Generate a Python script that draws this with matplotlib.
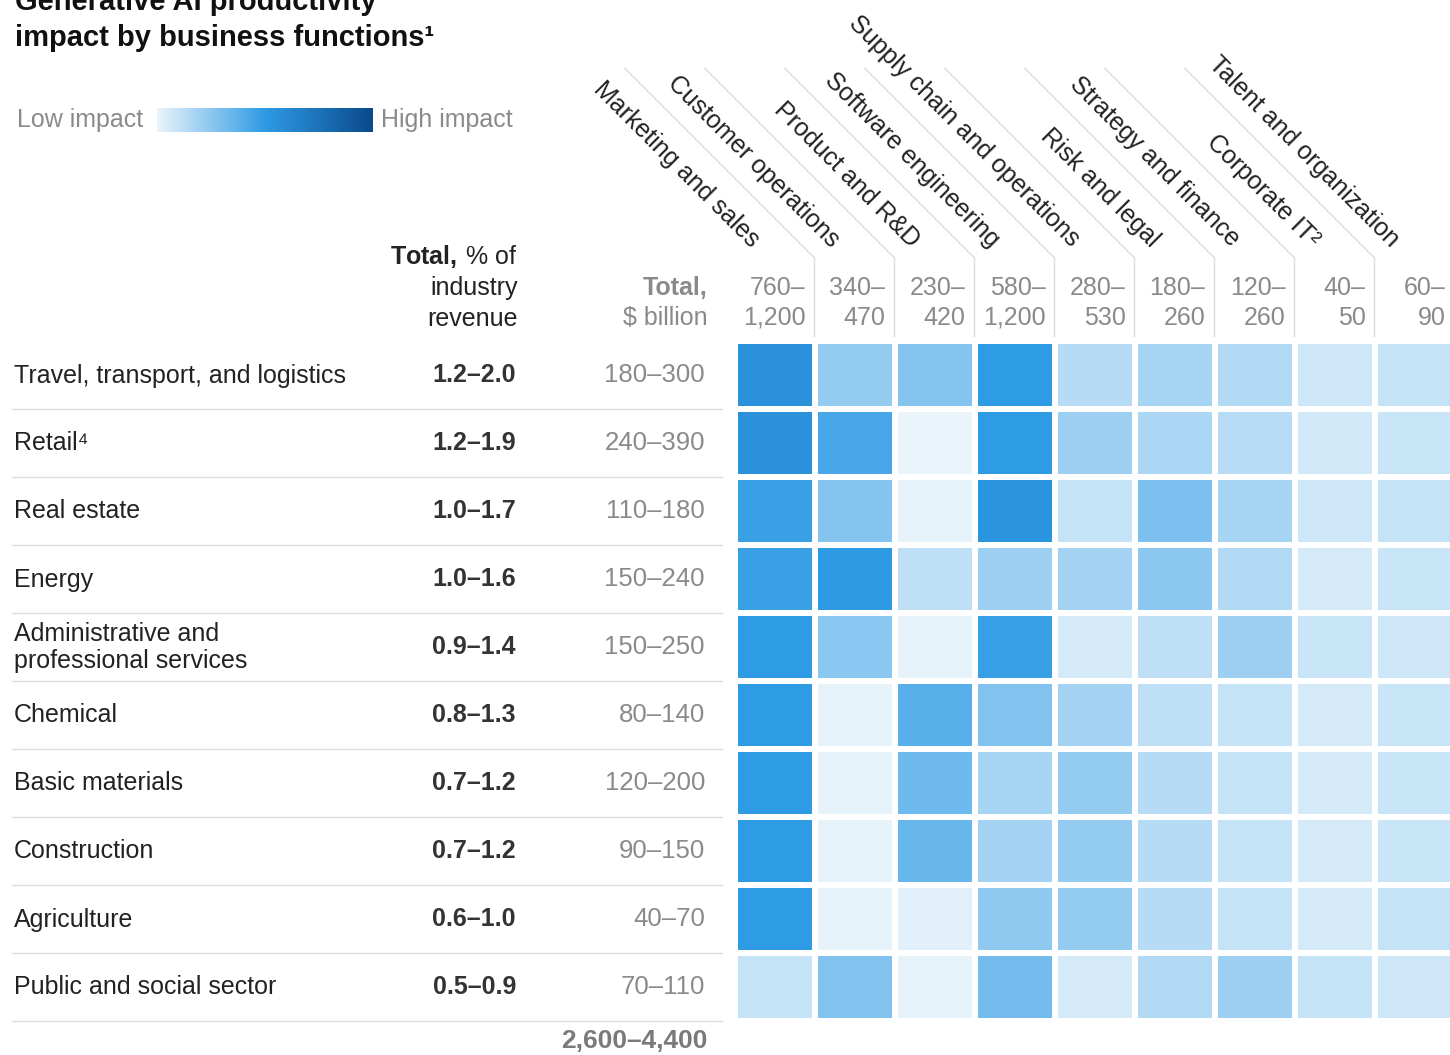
import numpy as np
import matplotlib
matplotlib.use('Agg')
import matplotlib.pyplot as plt
from matplotlib.colors import LinearSegmentedColormap

plt.rcParams['font.family'] = ['Liberation Sans', 'DejaVu Sans']
plt.rcParams['mathtext.fontset'] = 'custom'
plt.rcParams['mathtext.rm'] = 'Liberation Sans'
plt.rcParams['mathtext.bf'] = 'Liberation Sans:bold'

# - Data
industries = ['Travel, transport, and logistics', 'Retail\u2074', 'Real estate', 'Energy',
              'Administrative and\nprofessional services', 'Chemical', 'Basic materials',
              'Construction', 'Agriculture', 'Public and social sector']
pct_revenue = ['1.2–2.0', '1.2–1.9', '1.0–1.7', '1.0–1.6', '0.9–1.4',
               '0.8–1.3', '0.7–1.2', '0.7–1.2', '0.6–1.0', '0.5–0.9']
usd_billion = ['180–300', '240–390', '110–180', '150–240', '150–250',
               '80–140', '120–200', '90–150', '40–70', '70–110']
grand_total = '2,600–4,400'
functions = ['Marketing and sales', 'Customer operations', 'Product and R&D',
             'Software engineering', 'Supply chain and operations', 'Risk and legal',
             'Strategy and finance', 'Corporate IT\u00b2', 'Talent and organization']
func_low = ['760–', '340–', '230–', '580–', '280–', '180–', '120–', '40–', '60–']
func_high = ['1,200', '470', '420', '1,200', '530', '260', '260', '50', '90']
# impact intensity, 0 = low, 1 = high (read from cell shades)
impact = np.array([
    [0.56, 0.23, 0.27, 0.50, 0.14, 0.18, 0.15, 0.08, 0.10],
    [0.56, 0.43, 0.00, 0.50, 0.21, 0.17, 0.135, 0.07, 0.09],
    [0.47, 0.27, 0.01, 0.54, 0.10, 0.295, 0.18, 0.08, 0.10],
    [0.47, 0.51, 0.12, 0.21, 0.19, 0.25, 0.15, 0.06, 0.09],
    [0.50, 0.26, 0.01, 0.48, 0.06, 0.12, 0.21, 0.09, 0.08],
    [0.50, 0.01, 0.39, 0.28, 0.19, 0.12, 0.10, 0.06, 0.09],
    [0.50, 0.01, 0.33, 0.18, 0.23, 0.14, 0.10, 0.06, 0.09],
    [0.50, 0.01, 0.35, 0.19, 0.23, 0.14, 0.10, 0.06, 0.09],
    [0.50, 0.01, 0.03, 0.24, 0.23, 0.14, 0.10, 0.06, 0.10],
    [0.10, 0.28, 0.01, 0.32, 0.06, 0.15, 0.21, 0.10, 0.08],
])

cmap = LinearSegmentedColormap.from_list('impact', ['#eaf4fb', '#2e9be5', '#0b4a8c'])

W, H = 1450, 1055
fig = plt.figure(figsize=(W / 100, H / 100), dpi=100)

# - Overlay axes in pixel coordinates for texts and rules
ax0 = fig.add_axes([0, 0, 1, 1])
ax0.set_xlim(0, W)
ax0.set_ylim(H, 0)
ax0.axis('off')

# layout (pixels)
hm_left, hm_top = 734.5, 340.5
col_w, row_h = 80, 68
n_rows, n_cols = impact.shape
fs = 18
c_dark = '#222222'
c_grey = '#8a8a8a'
c_rule = '#dcdcdc'

# - Title
ax0.text(15, 10, 'Generative AI productivity', fontsize=21, fontweight='bold', color='#111111', va='baseline')
ax0.text(15, 46, 'impact by business functions\u00b9', fontsize=21, fontweight='bold', color='#111111', va='baseline')

# - Legend
ax0.text(17, 120, 'Low impact', fontsize=fs, color=c_grey, va='center')
ax0.text(381, 120, 'High impact', fontsize=fs, color=c_grey, va='center')
axl = fig.add_axes([157 / W, 1 - 132 / H, 216 / W, 24 / H])
axl.imshow(np.linspace(0, 1, 256)[None, :], aspect='auto', cmap=cmap, vmin=0, vmax=1)
axl.axis('off')

# - Column headers
ax0.text(518, 257, r'$\mathbf{Total,}\,$% of', fontsize=fs, color=c_dark, ha='right', va='center')
ax0.text(518, 288, 'industry', fontsize=fs, color=c_dark, ha='right', va='center')
ax0.text(518, 319, 'revenue', fontsize=fs, color=c_dark, ha='right', va='center')
ax0.text(708, 288, 'Total,', fontsize=fs, color=c_grey, fontweight='bold', ha='right', va='center')
ax0.text(708, 318, '$ billion', fontsize=fs, color=c_grey, ha='right', va='center')

for j in range(n_cols):
    xl = hm_left + j * col_w
    xr = xl + col_w
    ax0.text(xr - 9, 288, func_low[j], fontsize=fs, color=c_grey, ha='right', va='center')
    ax0.text(xr - 9, 318, func_high[j], fontsize=fs, color=c_grey, ha='right', va='center')
    ax0.text(xl + 16, 248, functions[j], fontsize=fs, color=c_dark, rotation=-45,
             rotation_mode='anchor', ha='right', va='baseline')
    if j < n_cols - 1:
        ax0.plot([xr, xr], [258, 336], color=c_rule, lw=1)
        ax0.plot([xr, xr - 190], [258, 68], color=c_rule, lw=1)

# - Row labels and values
for i in range(n_rows):
    yc = hm_top + (i + 0.5) * row_h
    ax0.text(14, yc + 1, industries[i], fontsize=fs, color=c_dark, va='center', linespacing=1.2)
    ax0.text(516, yc + 1, pct_revenue[i], fontsize=fs, color='#333333', fontweight='bold', ha='right', va='center')
    ax0.text(705, yc + 1, usd_billion[i], fontsize=fs + 0.5, color=c_grey, ha='right', va='center')
    ax0.plot([12, 722], [hm_top + (i + 1) * row_h] * 2, color=c_rule, lw=1)
ax0.text(708, 1041, grand_total, fontsize=fs + 1, color='#7a7a7a', fontweight='bold', ha='right', va='center')

# - Heatmap
axh = fig.add_axes([hm_left / W, 1 - (hm_top + n_rows * row_h) / H, n_cols * col_w / W, n_rows * row_h / H])
axh.pcolormesh(impact, cmap=cmap, vmin=0, vmax=1, edgecolors='white', linewidth=4.2)
axh.set_xlim(0, n_cols)
axh.set_ylim(n_rows, 0)
axh.axis('off')

plt.savefig('out.png', dpi=100)
